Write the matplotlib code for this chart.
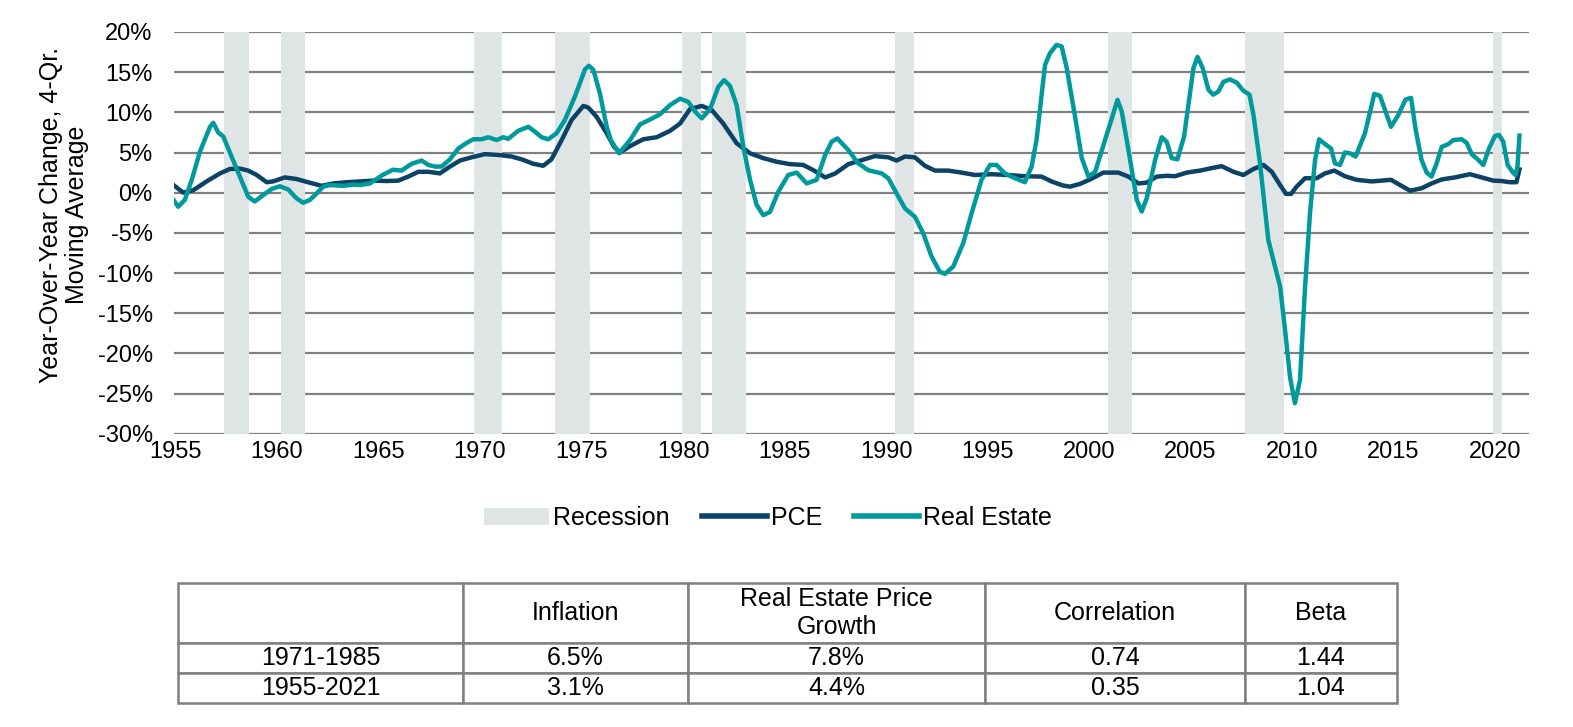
import matplotlib
matplotlib.use('Agg')
import matplotlib.pyplot as plt
from matplotlib.patches import Patch
from matplotlib.lines import Line2D

plt.rcParams['font.family'] = ['Liberation Sans', 'DejaVu Sans']

W, H = 1573, 727  # tamaño de salida en px

# Periodos de recesion (inicio, fin) en años
recessions = [(1957.4, 1958.6), (1960.2, 1961.4), (1969.7, 1971.1), (1973.7, 1975.4),
              (1979.95, 1980.9), (1981.45, 1983.1), (1990.45, 1991.4), (2000.95, 2002.1),
              (2007.7, 2009.6), (2019.9, 2020.35)]

# Real Estate, variacion interanual (%)
re_years = [1954.9, 1955.13, 1955.46, 1955.8, 1956.2, 1956.7, 1956.86, 1957.1, 1957.35, 1957.76,
            1958.17, 1958.58, 1958.9, 1959.32, 1959.73, 1960.14, 1960.55, 1960.96, 1961.29, 1961.62,
            1961.95, 1962.28, 1962.6, 1963.26, 1963.75, 1964.1, 1964.57, 1965.2, 1965.7, 1966.14,
            1966.63, 1967.12, 1967.45, 1967.78, 1968.1, 1968.52, 1968.93, 1969.34, 1969.67, 1970.08,
            1970.4, 1970.82, 1971.14, 1971.39, 1971.88, 1972.38, 1972.7, 1973.03, 1973.36, 1973.77,
            1974.18, 1974.67, 1975.17, 1975.36, 1975.58, 1975.9, 1976.24, 1976.45, 1976.85, 1977.39,
            1977.88, 1978.37, 1978.86, 1979.36, 1979.85, 1980.26, 1980.59, 1980.92, 1981.33, 1981.74,
            1982.02, 1982.31, 1982.64, 1982.97, 1983.3, 1983.62, 1983.95, 1984.28, 1984.69, 1985.18,
            1985.6, 1986.09, 1986.58, 1987.0, 1987.32, 1987.6, 1988.14, 1988.63, 1989.12, 1989.78,
            1990.11, 1990.52, 1990.93, 1991.42, 1991.83, 1992.24, 1992.65, 1992.9, 1993.31, 1993.8,
            1994.21, 1994.7, 1995.12, 1995.44, 1995.85, 1996.35, 1996.84, 1997.17, 1997.41, 1997.83,
            1998.07, 1998.4, 1998.65, 1998.9, 1999.31, 1999.64, 1999.97, 2000.3, 2000.79, 2001.2,
            2001.4, 2001.61, 2001.94, 2002.35, 2002.59, 2002.84, 2003.25, 2003.58, 2003.82, 2004.07,
            2004.35, 2004.68, 2004.97, 2005.14, 2005.34, 2005.6, 2005.88, 2006.12, 2006.37, 2006.62,
            2006.94, 2007.27, 2007.6, 2007.9, 2008.1, 2008.42, 2008.83, 2009.16, 2009.41, 2009.65,
            2009.9, 2010.14, 2010.39, 2010.64, 2010.88, 2011.13, 2011.33, 2011.62, 2011.92, 2012.11,
            2012.36, 2012.6, 2012.85, 2013.13, 2013.59, 2014.05, 2014.33, 2014.87, 2015.23, 2015.59,
            2015.86, 2016.09, 2016.38, 2016.63, 2016.87, 2017.12, 2017.37, 2017.7, 2017.94, 2018.35,
            2018.6, 2018.85, 2019.14, 2019.42, 2019.7, 2019.99, 2020.19, 2020.4, 2020.62, 2020.85,
            2021.0, 2021.1, 2021.2]
re_values = [-0.9, -1.75, -0.9, 1.6, 5.1, 8.2, 8.7, 7.5, 7.0, 4.5,
             2.0, -0.5, -1.1, -0.3, 0.45, 0.8, 0.4, -0.7, -1.25, -0.9,
             -0.1, 0.75, 0.95, 0.85, 1.0, 0.95, 1.15, 2.2, 2.85, 2.75,
             3.6, 4.0, 3.45, 3.25, 3.25, 4.15, 5.5, 6.2, 6.65, 6.65,
             6.9, 6.55, 6.9, 6.7, 7.7, 8.2, 7.6, 6.9, 6.65, 7.4,
             9.05, 11.95, 15.35, 15.8, 15.3, 12.4, 8.2, 6.5, 4.9, 6.55,
             8.5, 9.1, 9.75, 10.9, 11.7, 11.3, 10.1, 9.25, 10.4, 13.2,
             14.0, 13.3, 10.9, 5.7, 1.6, -1.5, -2.8, -2.4, 0.1, 2.2,
             2.5, 1.15, 1.6, 4.7, 6.35, 6.75, 5.3, 3.65, 2.8, 2.4,
             1.8, -0.1, -1.95, -3.0, -5.05, -7.95, -9.85, -10.1, -9.2, -6.3,
             -2.6, 1.6, 3.45, 3.45, 2.4, 1.8, 1.3, 3.25, 6.55, 15.9,
             17.35, 18.4, 18.2, 15.5, 9.45, 4.3, 2.0, 2.6, 6.55, 9.9,
             11.55, 10.1, 5.3, -0.9, -2.35, -0.7, 4.05, 6.9, 6.35, 4.3,
             4.15, 7.0, 12.35, 15.5, 16.9, 15.5, 12.8, 12.2, 12.6, 13.8,
             14.1, 13.7, 12.7, 12.2, 9.65, 3.65, -5.9, -9.2, -11.7, -17.0,
             -23.0, -26.2, -23.3, -11.7, -2.6, 4.05, 6.65, 6.05, 5.5, 3.65,
             3.45, 5.0, 4.9, 4.5, 7.4, 12.3, 12.05, 8.2, 9.65, 11.6,
             11.8, 7.8, 4.05, 2.5, 2.0, 3.65, 5.7, 6.05, 6.55, 6.65,
             6.2, 4.8, 4.15, 3.45, 5.5, 7.05, 7.2, 6.35, 3.45, 2.6,
             2.2, 3.2, 7.1]

# PCE, variacion interanual (%)
pce_years = [1954.9, 1955.38, 1955.87, 1956.53, 1957.19, 1957.68, 1958.17, 1958.58, 1959.0, 1959.49,
             1959.8, 1960.38, 1960.96, 1961.6, 1962.2, 1962.77, 1963.43, 1964.1, 1964.75, 1965.4,
             1965.97, 1966.46, 1966.96, 1967.45, 1968.02, 1968.52, 1969.01, 1969.58, 1970.24, 1970.9,
             1971.55, 1972.05, 1972.62, 1973.11, 1973.52, 1974.02, 1974.51, 1975.09, 1975.33, 1975.74,
             1976.24, 1976.6, 1976.89, 1977.39, 1978.04, 1978.7, 1979.36, 1979.85, 1980.34, 1980.92,
             1981.41, 1981.98, 1982.64, 1983.3, 1983.95, 1984.61, 1985.27, 1985.92, 1986.42, 1987.0,
             1987.5, 1988.14, 1988.8, 1989.45, 1990.11, 1990.52, 1990.93, 1991.42, 1991.91, 1992.41,
             1993.06, 1993.72, 1994.38, 1995.2, 1996.02, 1996.84, 1997.66, 1998.15, 1998.7, 1999.06,
             1999.56, 2000.05, 2000.7, 2001.44, 2001.94, 2002.43, 2002.84, 2003.33, 2003.82, 2004.24,
             2004.81, 2005.47, 2006.12, 2006.53, 2007.11, 2007.6, 2008.1, 2008.59, 2009.0, 2009.41,
             2009.7, 2009.95, 2010.22, 2010.64, 2011.21, 2011.62, 2012.08, 2012.6, 2013.18, 2013.92,
             2014.41, 2014.87, 2015.32, 2015.81, 2016.38, 2016.87, 2017.37, 2018.02, 2018.76, 2019.34,
             2019.91, 2020.32, 2020.73, 2021.05, 2021.2]
pce_values = [0.95, 0.0, 0.3, 1.4, 2.4, 2.95, 3.0, 2.75, 2.2, 1.3,
              1.4, 1.9, 1.7, 1.25, 0.85, 1.15, 1.3, 1.4, 1.5, 1.45,
              1.5, 2.0, 2.6, 2.6, 2.4, 3.25, 4.0, 4.4, 4.8, 4.7,
              4.5, 4.15, 3.6, 3.35, 4.15, 6.55, 9.05, 10.8, 10.6, 9.45,
              7.4, 5.7, 5.0, 5.8, 6.65, 6.9, 7.7, 8.6, 10.4, 10.8,
              10.3, 8.6, 6.15, 4.9, 4.3, 3.85, 3.55, 3.45, 2.8, 1.9,
              2.4, 3.55, 4.05, 4.55, 4.4, 4.0, 4.5, 4.4, 3.35, 2.75,
              2.75, 2.5, 2.2, 2.3, 2.2, 2.05, 2.0, 1.4, 0.9, 0.75,
              1.1, 1.65, 2.5, 2.5, 2.0, 1.15, 1.25, 2.0, 2.1, 2.05,
              2.5, 2.75, 3.1, 3.3, 2.6, 2.2, 2.95, 3.45, 2.6, 0.95,
              -0.15, -0.15, 0.75, 1.8, 1.8, 2.4, 2.75, 2.05, 1.6, 1.4,
              1.5, 1.6, 0.95, 0.25, 0.55, 1.15, 1.65, 1.9, 2.3, 1.9,
              1.5, 1.45, 1.3, 1.3, 2.9]

x_ticks = list(range(1955, 2021, 5))
y_ticks = list(range(-30, 21, 5))

# Tabla
table_header = ['', 'Inflation', 'Real Estate Price\nGrowth', 'Correlation', 'Beta']
periods = ['1971-1985', '1955-2021']
inflation = ['6.5%', '3.1%']
re_growth = ['7.8%', '4.4%']
correlation = ['0.74', '0.35']
beta = ['1.44', '1.04']

PCE_COLOR = '#0b4266'
RE_COLOR = '#00999c'
REC_COLOR = '#dfe5e5'
GRID_COLOR = '#808080'

fig = plt.figure(figsize=(W / 100, H / 100), dpi=100)
ax = fig.add_axes([173.5 / W, 1 - 433.7 / H, (1529 - 173.5) / W, (433.7 - 32) / H])

for start, end in recessions:
    ax.axvspan(start, end, color=REC_COLOR, lw=0, zorder=1)
ax.plot(pce_years, pce_values, color=PCE_COLOR, lw=3.2, zorder=3, solid_joinstyle='round')
ax.plot(re_years, re_values, color=RE_COLOR, lw=3.2, zorder=4, solid_joinstyle='round')

ax.set_xlim(1954.9, 2021.67)
ax.set_ylim(-30, 20)
ax.set_xticks(x_ticks)
ax.set_xticklabels([str(y) for y in x_ticks], fontsize=17)
ax.set_yticks(y_ticks)
ax.set_yticklabels([f'{v}%' for v in y_ticks], fontsize=17)
ax.set_axisbelow(True)
ax.yaxis.grid(True, color=GRID_COLOR, lw=1.6)
ax.tick_params(axis='both', length=0)
ax.tick_params(axis='y', pad=15)
ax.tick_params(axis='x', pad=5)
for s in ax.spines.values():
    s.set_visible(False)

fig.text(64 / W, 1 - 215 / H, 'Year-Over-Year Change, 4-Qr.\nMoving Average', rotation=90,
         ha='center', va='center', multialignment='center', fontsize=18, linespacing=1.1)

# Leyenda
handles = [Patch(facecolor=REC_COLOR, edgecolor='none'),
           Line2D([], [], color=PCE_COLOR, lw=4),
           Line2D([], [], color=RE_COLOR, lw=4)]
fig.legend(handles, ['Recession', 'PCE', 'Real Estate'], loc='center',
           bbox_to_anchor=(768 / W, 1 - 518 / H), ncol=3, frameon=False, fontsize=18,
           handlelength=2.6, handletextpad=0.15, columnspacing=1.3)

# Tabla inferior
rows = [list(r) for r in zip(periods, inflation, re_growth, correlation, beta)]
tax = fig.add_axes([178 / W, 1 - 703 / H, (1397 - 178) / W, (703 - 583) / H])
tax.axis('off')
col_w = [285, 225, 297, 260, 152]
tbl = tax.table(cellText=rows, colLabels=table_header, colWidths=[c / sum(col_w) for c in col_w],
                cellLoc='center', bbox=[0, 0, 1, 1])
tbl.auto_set_font_size(False)
tbl.set_fontsize(18)
for (r, c), cell in tbl.get_celld().items():
    cell.set_edgecolor(GRID_COLOR)
    cell.set_linewidth(1.8)
    if r == 0:
        cell.set_height(cell.get_height() * 2)

fig.savefig('out.png', dpi=100)
